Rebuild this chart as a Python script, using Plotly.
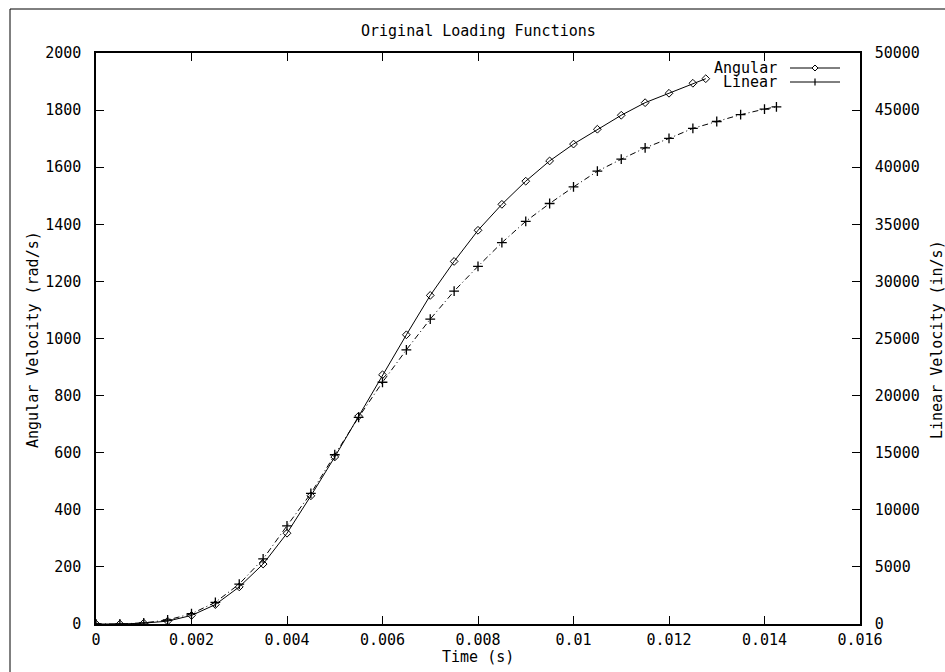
import plotly.graph_objects as go

# ---- data ----
t_angular = [0, 0.0005, 0.001, 0.0015, 0.002, 0.0025, 0.003, 0.0035, 0.004, 0.0045,
             0.005, 0.0055, 0.006, 0.0065, 0.007, 0.0075, 0.008, 0.0085, 0.009, 0.0095,
             0.01, 0.0105, 0.011, 0.0115, 0.012, 0.0125, 0.01277]
angular = [0, 0, 3, 10, 30, 68, 130, 210, 318, 449,
           585, 728, 873, 1013, 1151, 1270, 1379, 1470, 1551, 1622,
           1681, 1733, 1782, 1826, 1859, 1894, 1910]

t_linear = [0, 0.0005, 0.001, 0.0015, 0.002, 0.0025, 0.003, 0.0035, 0.004, 0.0045,
            0.005, 0.0055, 0.006, 0.0065, 0.007, 0.0075, 0.008, 0.0085, 0.009, 0.0095,
            0.01, 0.0105, 0.011, 0.0115, 0.012, 0.0125, 0.013, 0.0135, 0.014, 0.01425]
linear = [0, 0, 100, 350, 900, 1900, 3500, 5700, 8600, 11430,
          14820, 18100, 21170, 24010, 26700, 29150, 31320, 33390, 35260, 36820,
          38270, 39650, 40700, 41690, 42520, 43400, 44000, 44600, 45090, 45290]

x_ticks = [0, 0.002, 0.004, 0.006, 0.008, 0.01, 0.012, 0.014, 0.016]
x_ticktext = ["0", "0.002", "0.004", "0.006", "0.008", "0.01", "0.012", "0.014", "0.016"]

# ---- layout geometry (pixels) ----
W, H = 945, 672
PL, PR, PT, PB = 96, 860, 53, 624
FONT = "DejaVu Sans Mono"


def px(x):
    return (x - PL) / (PR - PL)


def py(y):
    return (PB - y) / (PB - PT)


fig = go.Figure()
fig.add_trace(go.Scatter(
    x=t_angular, y=angular, name="Angular", mode="lines+markers",
    line=dict(color="black", width=1),
    marker=dict(symbol="diamond-open", size=6, color="black", line=dict(width=1)),
    yaxis="y"))
fig.add_trace(go.Scatter(
    x=t_linear, y=linear, name="Linear", mode="lines+markers",
    line=dict(color="black", width=1, dash="6px,3px,1px,3px"),
    marker=dict(symbol="cross-thin", size=7, color="black", line=dict(width=1.3, color="black")),
    yaxis="y2"))

axis_common = dict(showgrid=False, zeroline=False, showline=True, linecolor="black",
                   linewidth=1.5, ticks="inside", ticklen=8, tickwidth=1.2,
                   tickcolor="black", tickfont=dict(family=FONT, size=15, color="black"))

fig.update_layout(
    width=W, height=H,
    margin=dict(l=PL, r=W - PR, t=PT, b=H - PB),
    paper_bgcolor="white", plot_bgcolor="white",
    font=dict(family=FONT, size=15, color="black"),
    showlegend=False,
    xaxis=dict(range=[0, 0.016], tickvals=x_ticks, ticktext=x_ticktext,
               mirror="ticks", ticklabelstandoff=1, **axis_common),
    yaxis=dict(range=[0, 2000], dtick=200, tick0=0, mirror=True, tickformat="d",
               ticklabelstandoff=10, **axis_common),
    yaxis2=dict(range=[0, 50000], dtick=5000, tick0=0, overlaying="y", side="right",
                tickformat="d", ticklabelstandoff=10, **axis_common),
)

annotations = [
    dict(text="Original Loading Functions", x=px(478), y=py(31), xanchor="center", yanchor="middle"),
    dict(text="Time (s)", x=px(478), y=py(657), xanchor="center", yanchor="middle"),
    dict(text="Angular Velocity (rad/s)", x=px(33), y=py(340), xanchor="center", yanchor="middle",
         textangle=-90),
    dict(text="Linear Velocity (in/s)", x=px(937), y=py(340), xanchor="center", yanchor="middle",
         textangle=-90),
    dict(text="Angular", x=px(779), y=py(68), xanchor="right", yanchor="middle"),
    dict(text="Linear", x=px(779), y=py(82), xanchor="right", yanchor="middle"),
]
for a in annotations:
    a.update(xref="paper", yref="paper", showarrow=False,
             font=dict(family=FONT, size=15, color="black"))
fig.update_layout(annotations=annotations)

shapes = [
    # outer frame of the scanned page (only left and top edges fall inside the picture)
    dict(type="rect", x0=px(10), x1=px(960), y0=py(690), y1=py(9),
         line=dict(color="black", width=1)),
    # legend samples
    dict(type="line", x0=px(790), x1=px(840), y0=py(68), y1=py(68), line=dict(color="black", width=1)),
    dict(type="line", x0=px(790), x1=px(840), y0=py(82), y1=py(82), line=dict(color="black", width=1)),
    dict(type="path",
         path=f"M {px(815)},{py(65)} L {px(818)},{py(68)} L {px(815)},{py(71)} L {px(812)},{py(68)} Z",
         line=dict(color="black", width=1), fillcolor="white"),
    dict(type="line", x0=px(815), x1=px(815), y0=py(78.5), y1=py(85.5), line=dict(color="black", width=1.2)),
]
for s in shapes:
    s.update(xref="paper", yref="paper")
fig.update_layout(shapes=shapes)

fig.write_html("out.html", config={"displayModeBar": False},
               post_script="document.body.style.margin='0';")
